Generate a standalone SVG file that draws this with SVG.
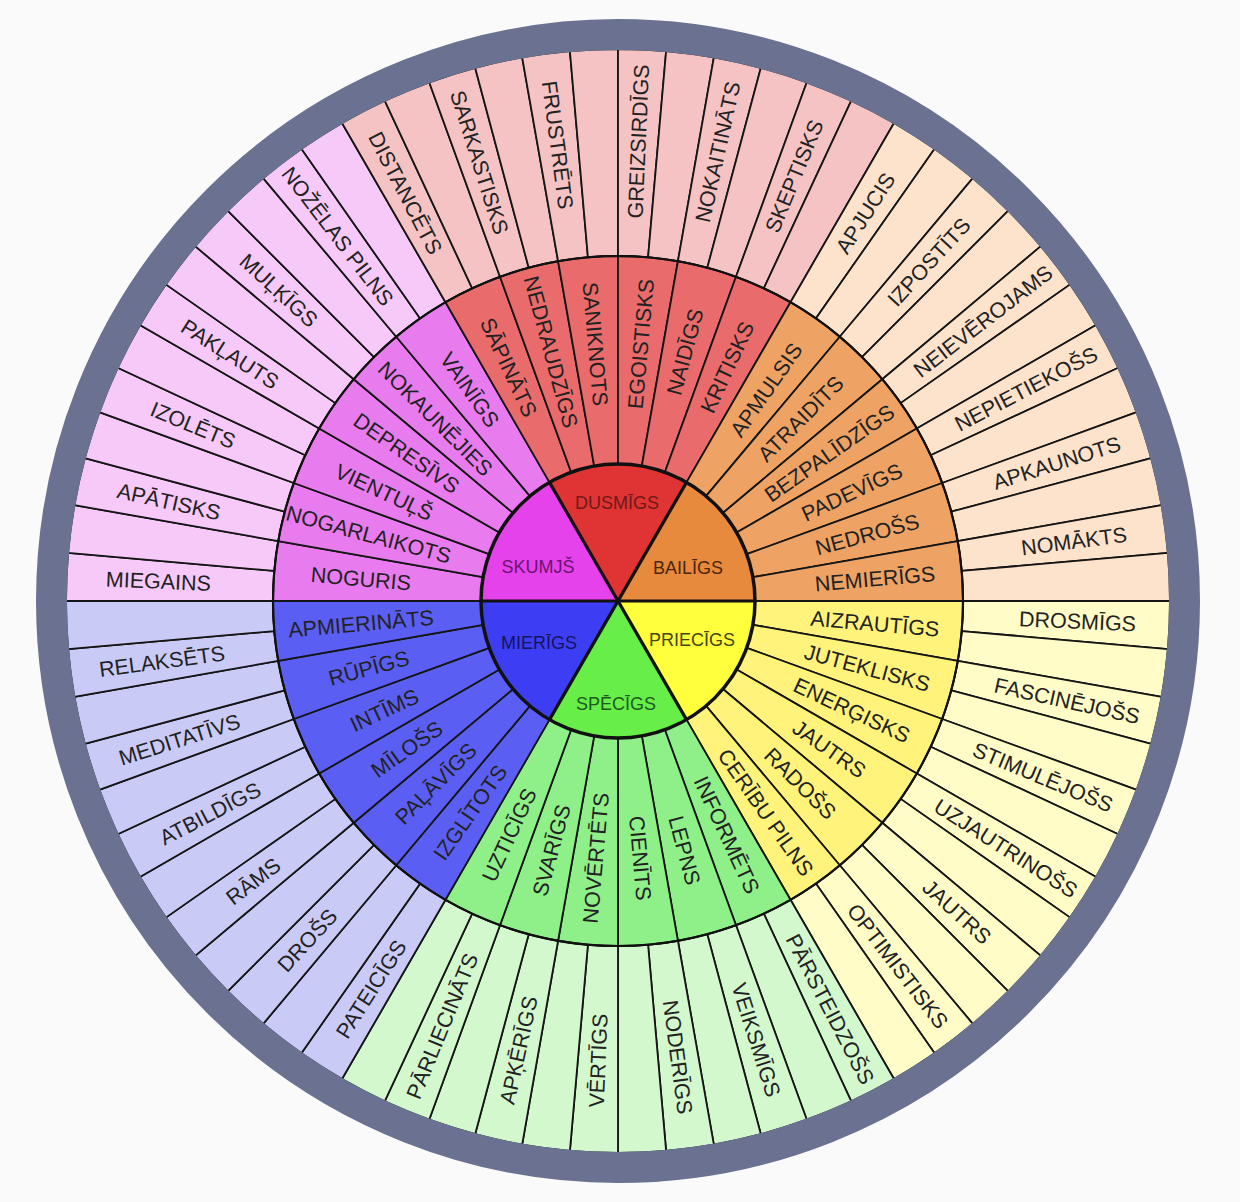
<svg xmlns="http://www.w3.org/2000/svg" width="1240" height="1202" viewBox="0 0 1240 1202">
<style>
.seg{stroke:#151515;stroke-width:1.8;stroke-linejoin:round}
.oy{fill:#fffcc8}.oo{fill:#fde2cc}.or{fill:#f5c3c3}.om{fill:#f6c9f8}.ob{fill:#c9cbf6}.og{fill:#d3f8cd}
.my{fill:#fff37c}.mo{fill:#eea365}.mr{fill:#e96b6b}.mm{fill:#e87bee}.mb{fill:#5b5ef2}.mg{fill:#8ff089}
.iy{fill:#ffff3e}.io{fill:#e88a3d}.ir{fill:#e03434}.im{fill:#e642ec}.ib{fill:#3d3ef4}.ig{fill:#67ee49}
text{font-family:"Liberation Sans",Arial,sans-serif;fill:#222}
.lbl{font-size:21.5px;text-anchor:middle}
.core{font-size:18px;text-anchor:middle}
</style>
<defs>
<path id="os" d="M345,0 L552,0 A552,552 0 0 1 549.90,48.11 L343.69,30.07 A345,345 0 0 0 345,0 Z"/>
<path id="ms" d="M137,0 L345,0 A345,345 0 0 1 339.76,59.91 L134.92,23.79 A137,137 0 0 0 137,0 Z"/>
<path id="is" d="M0,0 L137,0 A137,137 0 0 1 68.5,118.65 Z"/>
</defs>
<rect width="1240" height="1202" fill="#fafafa"/>
<g transform="translate(618,601)">

<g id="priecigs">
<use href="#os" class="seg oy" transform="rotate(0)"/><use href="#os" class="seg oy" transform="rotate(5)"/>
<use href="#os" class="seg oy" transform="rotate(10)"/><use href="#os" class="seg oy" transform="rotate(15)"/>
<use href="#os" class="seg oy" transform="rotate(20)"/><use href="#os" class="seg oy" transform="rotate(25)"/>
<use href="#os" class="seg oy" transform="rotate(30)"/><use href="#os" class="seg oy" transform="rotate(35)"/>
<use href="#os" class="seg oy" transform="rotate(40)"/><use href="#os" class="seg oy" transform="rotate(45)"/>
<use href="#os" class="seg oy" transform="rotate(50)"/><use href="#os" class="seg oy" transform="rotate(55)"/>
<use href="#ms" class="seg my" transform="rotate(0)"/><use href="#ms" class="seg my" transform="rotate(10)"/>
<use href="#ms" class="seg my" transform="rotate(20)"/><use href="#ms" class="seg my" transform="rotate(30)"/>
<use href="#ms" class="seg my" transform="rotate(40)"/><use href="#ms" class="seg my" transform="rotate(50)"/>
<use href="#is" class="iy" transform="rotate(0)"/>
</g>
<g id="specigs">
<use href="#os" class="seg og" transform="rotate(60)"/><use href="#os" class="seg og" transform="rotate(65)"/>
<use href="#os" class="seg og" transform="rotate(70)"/><use href="#os" class="seg og" transform="rotate(75)"/>
<use href="#os" class="seg og" transform="rotate(80)"/><use href="#os" class="seg og" transform="rotate(85)"/>
<use href="#os" class="seg og" transform="rotate(90)"/><use href="#os" class="seg og" transform="rotate(95)"/>
<use href="#os" class="seg og" transform="rotate(100)"/><use href="#os" class="seg og" transform="rotate(105)"/>
<use href="#os" class="seg og" transform="rotate(110)"/><use href="#os" class="seg og" transform="rotate(115)"/>
<use href="#ms" class="seg mg" transform="rotate(60)"/><use href="#ms" class="seg mg" transform="rotate(70)"/>
<use href="#ms" class="seg mg" transform="rotate(80)"/><use href="#ms" class="seg mg" transform="rotate(90)"/>
<use href="#ms" class="seg mg" transform="rotate(100)"/><use href="#ms" class="seg mg" transform="rotate(110)"/>
<use href="#is" class="ig" transform="rotate(60)"/>
</g>
<g id="mierigs">
<use href="#os" class="seg ob" transform="rotate(120)"/><use href="#os" class="seg ob" transform="rotate(125)"/>
<use href="#os" class="seg ob" transform="rotate(130)"/><use href="#os" class="seg ob" transform="rotate(135)"/>
<use href="#os" class="seg ob" transform="rotate(140)"/><use href="#os" class="seg ob" transform="rotate(145)"/>
<use href="#os" class="seg ob" transform="rotate(150)"/><use href="#os" class="seg ob" transform="rotate(155)"/>
<use href="#os" class="seg ob" transform="rotate(160)"/><use href="#os" class="seg ob" transform="rotate(165)"/>
<use href="#os" class="seg ob" transform="rotate(170)"/><use href="#os" class="seg ob" transform="rotate(175)"/>
<use href="#ms" class="seg mb" transform="rotate(120)"/><use href="#ms" class="seg mb" transform="rotate(130)"/>
<use href="#ms" class="seg mb" transform="rotate(140)"/><use href="#ms" class="seg mb" transform="rotate(150)"/>
<use href="#ms" class="seg mb" transform="rotate(160)"/><use href="#ms" class="seg mb" transform="rotate(170)"/>
<use href="#is" class="ib" transform="rotate(120)"/>
</g>
<g id="skumjs">
<use href="#os" class="seg om" transform="rotate(180)"/><use href="#os" class="seg om" transform="rotate(185)"/>
<use href="#os" class="seg om" transform="rotate(190)"/><use href="#os" class="seg om" transform="rotate(195)"/>
<use href="#os" class="seg om" transform="rotate(200)"/><use href="#os" class="seg om" transform="rotate(205)"/>
<use href="#os" class="seg om" transform="rotate(210)"/><use href="#os" class="seg om" transform="rotate(215)"/>
<use href="#os" class="seg om" transform="rotate(220)"/><use href="#os" class="seg om" transform="rotate(225)"/>
<use href="#os" class="seg om" transform="rotate(230)"/><use href="#os" class="seg om" transform="rotate(235)"/>
<use href="#ms" class="seg mm" transform="rotate(180)"/><use href="#ms" class="seg mm" transform="rotate(190)"/>
<use href="#ms" class="seg mm" transform="rotate(200)"/><use href="#ms" class="seg mm" transform="rotate(210)"/>
<use href="#ms" class="seg mm" transform="rotate(220)"/><use href="#ms" class="seg mm" transform="rotate(230)"/>
<use href="#is" class="im" transform="rotate(180)"/>
</g>
<g id="dusmigs">
<use href="#os" class="seg or" transform="rotate(240)"/><use href="#os" class="seg or" transform="rotate(245)"/>
<use href="#os" class="seg or" transform="rotate(250)"/><use href="#os" class="seg or" transform="rotate(255)"/>
<use href="#os" class="seg or" transform="rotate(260)"/><use href="#os" class="seg or" transform="rotate(265)"/>
<use href="#os" class="seg or" transform="rotate(270)"/><use href="#os" class="seg or" transform="rotate(275)"/>
<use href="#os" class="seg or" transform="rotate(280)"/><use href="#os" class="seg or" transform="rotate(285)"/>
<use href="#os" class="seg or" transform="rotate(290)"/><use href="#os" class="seg or" transform="rotate(295)"/>
<use href="#ms" class="seg mr" transform="rotate(240)"/><use href="#ms" class="seg mr" transform="rotate(250)"/>
<use href="#ms" class="seg mr" transform="rotate(260)"/><use href="#ms" class="seg mr" transform="rotate(270)"/>
<use href="#ms" class="seg mr" transform="rotate(280)"/><use href="#ms" class="seg mr" transform="rotate(290)"/>
<use href="#is" class="ir" transform="rotate(240)"/>
</g>
<g id="bailigs">
<use href="#os" class="seg oo" transform="rotate(300)"/><use href="#os" class="seg oo" transform="rotate(305)"/>
<use href="#os" class="seg oo" transform="rotate(310)"/><use href="#os" class="seg oo" transform="rotate(315)"/>
<use href="#os" class="seg oo" transform="rotate(320)"/><use href="#os" class="seg oo" transform="rotate(325)"/>
<use href="#os" class="seg oo" transform="rotate(330)"/><use href="#os" class="seg oo" transform="rotate(335)"/>
<use href="#os" class="seg oo" transform="rotate(340)"/><use href="#os" class="seg oo" transform="rotate(345)"/>
<use href="#os" class="seg oo" transform="rotate(350)"/><use href="#os" class="seg oo" transform="rotate(355)"/>
<use href="#ms" class="seg mo" transform="rotate(300)"/><use href="#ms" class="seg mo" transform="rotate(310)"/>
<use href="#ms" class="seg mo" transform="rotate(320)"/><use href="#ms" class="seg mo" transform="rotate(330)"/>
<use href="#ms" class="seg mo" transform="rotate(340)"/><use href="#ms" class="seg mo" transform="rotate(350)"/>
<use href="#is" class="io" transform="rotate(300)"/>
</g>

<g id="rings" fill="none" stroke="#111">
<circle r="345" stroke-width="2.2"/>
<circle r="137" stroke-width="3.5"/>
<line x1="-137" y1="0" x2="137" y2="0" stroke-width="3.2"/>
<line x1="-137" y1="0" x2="137" y2="0" stroke-width="3.2" transform="rotate(60)"/>
<line x1="-137" y1="0" x2="137" y2="0" stroke-width="3.2" transform="rotate(120)"/>
</g>

<g id="core-labels" class="core">
<text x="-1" y="-98" dy=".36em" style="fill:#6e1a1a">DUSMĪGS</text>
<text x="70" y="-33" dy=".36em" style="fill:#4a2608">BAILĪGS</text>
<text x="74" y="39" dy=".36em" style="fill:#45450c">PRIECĪGS</text>
<text x="-2" y="103" dy=".36em" style="fill:#1e5a1e">SPĒCĪGS</text>
<text x="-79" y="42" dy=".36em" style="fill:#141460">MIERĪGS</text>
<text x="-80" y="-34" dy=".36em" style="fill:#6a1470">SKUMJŠ</text>
</g>

<g id="middle-labels" class="lbl">
<text dy=".36em" transform="rotate(5) translate(258,0)">AIZRAUTĪGS</text>
<text dy=".36em" transform="rotate(15) translate(258,0)">JUTEKLISKS</text>
<text dy=".36em" transform="rotate(25) translate(258,0)">ENERĢISKS</text>
<text dy=".36em" transform="rotate(35) translate(258,0)">JAUTRS</text>
<text dy=".36em" transform="rotate(45) translate(258,0)">RADOŠS</text>
<text dy=".36em" transform="rotate(55) translate(258,0)">CERĪBU PILNS</text>
<text dy=".36em" transform="rotate(65) translate(258,0)">INFORMĒTS</text>
<text dy=".36em" transform="rotate(75) translate(258,0)">LEPNS</text>
<text dy=".36em" transform="rotate(85) translate(258,0)">CIENĪTS</text>
<text dy=".36em" transform="rotate(95) translate(258,0) rotate(180)">NOVĒRTĒTS</text>
<text dy=".36em" transform="rotate(105) translate(258,0) rotate(180)">SVARĪGS</text>
<text dy=".36em" transform="rotate(115) translate(258,0) rotate(180)">UZTICĪGS</text>
<text dy=".36em" transform="rotate(125) translate(258,0) rotate(180)">IZGLĪTOTS</text>
<text dy=".36em" transform="rotate(135) translate(258,0) rotate(180)">PAĻĀVĪGS</text>
<text dy=".36em" transform="rotate(145) translate(258,0) rotate(180)">MĪLOŠS</text>
<text dy=".36em" transform="rotate(155) translate(258,0) rotate(180)">INTĪMS</text>
<text dy=".36em" transform="rotate(165) translate(258,0) rotate(180)">RŪPĪGS</text>
<text dy=".36em" transform="rotate(175) translate(258,0) rotate(180)">APMIERINĀTS</text>
<text dy=".36em" transform="rotate(185) translate(258,0) rotate(180)">NOGURIS</text>
<text dy=".36em" transform="rotate(195) translate(258,0) rotate(180)">NOGARLAIKOTS</text>
<text dy=".36em" transform="rotate(205) translate(258,0) rotate(180)">VIENTUĻŠ</text>
<text dy=".36em" transform="rotate(215) translate(258,0) rotate(180)">DEPRESĪVS</text>
<text dy=".36em" transform="rotate(225) translate(258,0) rotate(180)">NOKAUNĒJIES</text>
<text dy=".36em" transform="rotate(235) translate(258,0) rotate(180)">VAINĪGS</text>
<text dy=".36em" transform="rotate(245) translate(258,0) rotate(180)">SĀPINĀTS</text>
<text dy=".36em" transform="rotate(255) translate(258,0) rotate(180)">NEDRAUDZĪGS</text>
<text dy=".36em" transform="rotate(265) translate(258,0) rotate(180)">SANIKNOTS</text>
<text dy=".36em" transform="rotate(-85) translate(258,0)">EGOISTISKS</text>
<text dy=".36em" transform="rotate(-75) translate(258,0)">NAIDĪGS</text>
<text dy=".36em" transform="rotate(-65) translate(258,0)">KRITISKS</text>
<text dy=".36em" transform="rotate(-55) translate(258,0)">APMULSIS</text>
<text dy=".36em" transform="rotate(-45) translate(258,0)">ATRAIDĪTS</text>
<text dy=".36em" transform="rotate(-35) translate(258,0)">BEZPALĪDZĪGS</text>
<text dy=".36em" transform="rotate(-25) translate(258,0)">PADEVĪGS</text>
<text dy=".36em" transform="rotate(-15) translate(258,0)">NEDROŠS</text>
<text dy=".36em" transform="rotate(-5) translate(258,0)">NEMIERĪGS</text>
</g>

<g id="outer-labels" class="lbl">
<text dy=".36em" transform="rotate(2.5) translate(460,0)">DROSMĪGS</text>
<text dy=".36em" transform="rotate(12.5) translate(460,0)">FASCINĒJOŠS</text>
<text dy=".36em" transform="rotate(22.5) translate(460,0)">STIMULĒJOŠS</text>
<text dy=".36em" transform="rotate(32.5) translate(460,0)">UZJAUTRINOŠS</text>
<text dy=".36em" transform="rotate(42.5) translate(460,0)">JAUTRS</text>
<text dy=".36em" transform="rotate(52.5) translate(460,0)">OPTIMISTISKS</text>
<text dy=".36em" transform="rotate(62.5) translate(460,0)">PĀRSTEIDZOŠS</text>
<text dy=".36em" transform="rotate(72.5) translate(460,0)">VEIKSMĪGS</text>
<text dy=".36em" transform="rotate(82.5) translate(460,0)">NODERĪGS</text>
<text dy=".36em" transform="rotate(92.5) translate(460,0) rotate(180)">VĒRTĪGS</text>
<text dy=".36em" transform="rotate(102.5) translate(460,0) rotate(180)">APĶĒRĪGS</text>
<text dy=".36em" transform="rotate(112.5) translate(460,0) rotate(180)">PĀRLIECINĀTS</text>
<text dy=".36em" transform="rotate(122.5) translate(460,0) rotate(180)">PATEICĪGS</text>
<text dy=".36em" transform="rotate(132.5) translate(460,0) rotate(180)">DROŠS</text>
<text dy=".36em" transform="rotate(142.5) translate(460,0) rotate(180)">RĀMS</text>
<text dy=".36em" transform="rotate(152.5) translate(460,0) rotate(180)">ATBILDĪGS</text>
<text dy=".36em" transform="rotate(162.5) translate(460,0) rotate(180)">MEDITATĪVS</text>
<text dy=".36em" transform="rotate(172.5) translate(460,0) rotate(180)">RELAKSĒTS</text>
<text dy=".36em" transform="rotate(182.5) translate(460,0) rotate(180)">MIEGAINS</text>
<text dy=".36em" transform="rotate(192.5) translate(460,0) rotate(180)">APĀTISKS</text>
<text dy=".36em" transform="rotate(202.5) translate(460,0) rotate(180)">IZOLĒTS</text>
<text dy=".36em" transform="rotate(212.5) translate(460,0) rotate(180)">PAKĻAUTS</text>
<text dy=".36em" transform="rotate(222.5) translate(460,0) rotate(180)">MUĻĶĪGS</text>
<text dy=".36em" transform="rotate(232.5) translate(460,0) rotate(180)">NOŽĒLAS PILNS</text>
<text dy=".36em" transform="rotate(242.5) translate(460,0) rotate(180)">DISTANCĒTS</text>
<text dy=".36em" transform="rotate(252.5) translate(460,0) rotate(180)">SARKASTISKS</text>
<text dy=".36em" transform="rotate(262.5) translate(460,0) rotate(180)">FRUSTRĒTS</text>
<text dy=".36em" transform="rotate(-87.5) translate(460,0)">GREIZSIRDĪGS</text>
<text dy=".36em" transform="rotate(-77.5) translate(460,0)">NOKAITINĀTS</text>
<text dy=".36em" transform="rotate(-67.5) translate(460,0)">SKEPTISKS</text>
<text dy=".36em" transform="rotate(-57.5) translate(460,0)">APJUCIS</text>
<text dy=".36em" transform="rotate(-47.5) translate(460,0)">IZPOSTĪTS</text>
<text dy=".36em" transform="rotate(-37.5) translate(460,0)">NEIEVĒROJAMS</text>
<text dy=".36em" transform="rotate(-27.5) translate(460,0)">NEPIETIEKOŠS</text>
<text dy=".36em" transform="rotate(-17.5) translate(460,0)">APKAUNOTS</text>
<text dy=".36em" transform="rotate(-7.5) translate(460,0)">NOMĀKTS</text>
</g>

<circle id="frame" r="566.5" fill="none" stroke="#6b7291" stroke-width="31"/>
</g>
</svg>
